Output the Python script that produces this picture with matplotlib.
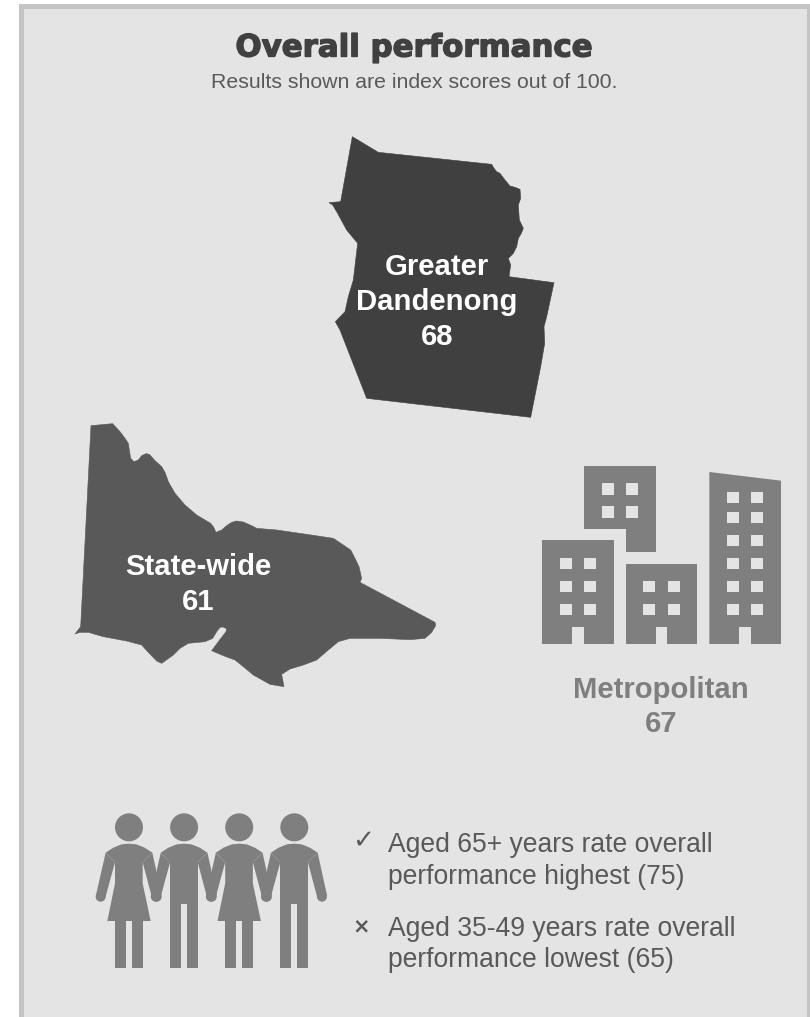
import matplotlib
matplotlib.use("Agg")
import matplotlib.pyplot as plt
import matplotlib.patheffects as pe
from matplotlib.patches import Polygon, Rectangle, Circle

W, H = 810, 1017
REGION_LABELS = ["Greater\nDandenong", "State-wide", "Metropolitan"]
REGION_SCORES = [68, 61, 67]
BEST_GROUP, BEST_SCORE = "65+", 75
WORST_GROUP, WORST_SCORE = "35-49", 65
TITLE = "Overall performance"
SUBTITLE = "Results shown are index scores out of 100."

DANDENONG = [(97,20),(175,67),(515,103),(522,115),(530,125),(540,130),(555,150),(570,168),(585,172),(600,178),(602,205),(595,225),(598,270),(610,295),(603,312),(595,325),(590,350),(580,370),(565,385),(572,405),(567,440),(702,458),(680,560),(672,590),(674,640),(662,710),(632,862),(140,805),(60,600),(46,575),(75,545),(85,500),(100,450),(113,340),(80,300),(50,245),(38,225),(27,218),(62,215)]
VICTORIA = [(93,32),(158,26),(180,50),(195,70),(205,85),(208,105),(212,130),(222,140),(235,135),(245,122),(258,116),(268,118),(285,137),(305,155),(315,172),(325,200),(345,235),(375,270),(410,300),(452,325),(460,335),(468,352),(485,345),(500,332),(515,322),(530,318),(550,321),(575,332),(590,340),(650,345),(740,358),(820,370),(850,390),(872,405),(885,430),(897,455),(905,490),(900,502),(1125,622),(1127,632),(1115,652),(1095,670),(1050,674),(960,670),(870,670),(835,680),(805,705),(770,735),(730,750),(690,762),(665,778),(672,815),(630,808),(580,780),(550,755),(525,735),(490,722),(455,707),(475,680),(498,650),(500,642),(490,636),(480,637),(470,650),(458,670),(435,680),(385,685),(360,700),(340,720),(305,745),(290,738),(265,712),(245,690),(200,678),(130,665),(85,652),(60,652),(45,657),(62,635)]

BG, EDGE = "#e4e4e4", "#c4c4c4"
DARK, MID, GREY = "#404040", "#595959", "#7f7f7f"

fig = plt.figure(figsize=(W/100, H/100), dpi=100, facecolor="white")
ax = fig.add_axes([0, 0, 1, 1])
ax.set_xlim(0, W); ax.set_ylim(H, 0); ax.axis("off")
plt.rcParams["font.family"] = ["Liberation Sans", "DejaVu Sans"]

ax.add_patch(Rectangle((20.5, 5.5), 788.7, 1040, fc=BG, ec=EDGE, lw=3.6))

def zoomed(pts, ox, oy):
    return [(ox + x/3, oy + y/3) for x, y in pts]

ax.add_patch(Polygon(zoomed(DANDENONG, 320, 130), fc=DARK, ec=DARK, lw=0.4, joinstyle="round"))
ax.add_patch(Polygon(zoomed(VICTORIA, 60, 415), fc=MID, ec=MID, lw=0.4, joinstyle="round"))

# buildings
BO = (530, 460)
def brect(x0, y0, x1, y1, c):
    (a, b), (d, e) = zoomed([(x0, y0), (x1, y1)], *BO)
    ax.add_patch(Rectangle((a, b), d-a, e-b, fc=c, ec="none"))
ax.add_patch(Polygon(zoomed([(162,18),(377,18),(377,276),(287,276),(287,207),(162,207)], *BO), fc=GREY, ec="none"))
brect(36, 241, 251, 552, GREY)
brect(287, 311, 502, 552, GREY)
ax.add_patch(Polygon(zoomed([(538,36),(753,62),(753,552),(538,552)], *BO), fc=GREY, ec="none"))
for xs, ys, door in [
    ((215, 287), (70, 138), None),
    ((90, 162), (293, 362, 431), 126),
    ((340, 413), (362, 431), 377),
    ((591, 663), (95, 155, 224, 293, 362, 431), 628),
]:
    for x in xs:
        for y in ys:
            brect(x, y, x+36, y+35, BG)
    if door is not None:
        brect(door, 500, door+35, 552, BG)

# people
PO = (90, 805)
def person(dx, woman):
    f = lambda pts: zoomed([(x+dx, y) for x, y in pts], *PO)
    ax.add_patch(Circle(f([(117, 67)])[0], 42/3, fc=GREY, ec="none"))
    ax.add_patch(Polygon(f([(47,143),(70,128),(95,118),(117,116),(139,118),(164,128),(187,143),(158,172),(75,172)]), fc=GREY, ec="none"))
    ax.add_patch(Polygon(f([(47,143),(18,270),(46,278),(75,172)]), fc=GREY, ec="none"))
    ax.add_patch(Polygon(f([(187,143),(215,270),(186,278),(158,172)]), fc=GREY, ec="none"))
    ax.add_patch(Circle(f([(32,275)])[0], 15/3, fc=GREY, ec="none"))
    ax.add_patch(Circle(f([(200,275)])[0], 15/3, fc=GREY, ec="none"))
    if woman:
        ax.add_patch(Polygon(f([(75,160),(158,160),(158,235),(182,348),(52,348),(75,235)]), fc=GREY, ec="none"))
        ax.add_patch(Polygon(f([(75,348),(108,348),(108,490),(75,490)]), fc=GREY, ec="none"))
        ax.add_patch(Polygon(f([(125,348),(158,348),(158,490),(125,490)]), fc=GREY, ec="none"))
    else:
        ax.add_patch(Polygon(f([(75,160),(158,160),(158,490),(125,490),(125,298),(108,298),(108,490),(75,490)]), fc=GREY, ec="none"))
for i, wom in enumerate([True, False, True, False]):
    person(165.3*i, wom)

# text
ax.text(414.5, 48, TITLE, ha="center", va="center", fontsize=22.2, fontweight="bold", color=DARK,
        family="DejaVu Sans", path_effects=[pe.withStroke(linewidth=1.0, foreground=DARK)])
ax.text(414, 82.5, SUBTITLE, ha="center", va="center", fontsize=15.3, color=MID)
BIG = dict(ha="center", va="center", fontweight="bold", fontsize=21.1, linespacing=1.3)
ax.text(437, 302, f"{REGION_LABELS[0]}\n{REGION_SCORES[0]}", color="white", **BIG)
ax.text(198, 584.5, f"{REGION_LABELS[1]}\n{REGION_SCORES[1]}", color="white", **BIG)
ax.text(661, 707, f"{REGION_LABELS[2]}\n{REGION_SCORES[2]}", color=GREY, **BIG)
SM = dict(ha="left", va="center", fontsize=19.1, color=MID, linespacing=1.25)
ax.text(388, 861, f"Aged {BEST_GROUP} years rate overall\nperformance highest ({BEST_SCORE})", **SM)
ax.text(388, 944.5, f"Aged {WORST_GROUP} years rate overall\nperformance lowest ({WORST_SCORE})", **SM)
ax.text(363, 841, "\u2713", ha="center", va="center", fontsize=19, color=MID, family="DejaVu Sans")
ax.text(361, 926, "\u00d7", ha="center", va="center", fontsize=15, color=MID, family="DejaVu Sans", fontweight="bold")

fig.savefig("out.png", dpi=100)
